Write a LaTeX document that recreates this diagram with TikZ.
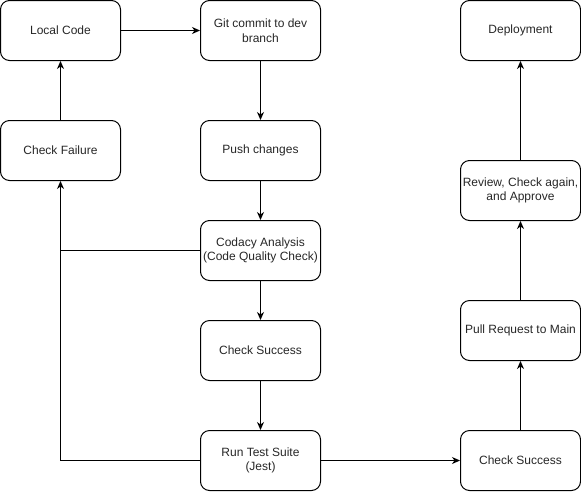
\documentclass[tikz,border=0pt]{standalone}
\usepackage{fontspec}
\setmainfont{Liberation Sans}
\usetikzlibrary{arrows.meta}
\begin{document}
\begin{tikzpicture}[x=1pt,y=-1pt,
  box/.style={draw=black,line width=1pt,rounded corners=9pt,minimum width=120pt,minimum height=60pt,
    inner sep=0pt,align=center,font=\fontsize{12}{14.5}\selectfont,text=black!85},
  arr/.style={draw=black,line width=1pt,-{Stealth[length=8pt,width=7pt,inset=2.5pt]}},
  ln/.style={draw=black,line width=1pt}]
\useasboundingbox (0,0) rectangle (581,491);
\node[box] (lc) at (60.5,30.5) {Local Code};
\node[box] (git) at (260.5,30.5) {Git commit to dev\\branch};
\node[box] (dep) at (520.5,30.5) {Deployment};
\node[box] (cf) at (60.5,150.5) {Check Failure};
\node[box] (push) at (260.5,150.5) {Push changes};
\node[box] (rev) at (520.5,190.5) {Review, Check again,\\and Approve};
\node[box] (cod) at (260.5,250.5) {Codacy Analysis\\(Code Quality Check)};
\node[box] (cs1) at (260.5,350.5) {Check Success};
\node[box] (pr) at (520.5,330.5) {Pull Request to Main};
\node[box] (rts) at (260.5,460.5) {Run Test Suite\\(Jest)};
\node[box] (cs2) at (520.5,460.5) {Check Success};
\draw[arr] (lc) -- (git);
\draw[arr] (git) -- (push);
\draw[arr] (push) -- (cod);
\draw[arr] (cod) -- (cs1);
\draw[arr] (cs1) -- (rts);
\draw[ln] (cod.west) -- (cf.south |- cod.west);
\draw[arr] (rts.west) -| (cf.south);
\draw[arr] (cf) -- (lc);
\draw[arr] (rts) -- (cs2);
\draw[arr] (cs2) -- (pr);
\draw[arr] (pr) -- (rev);
\draw[arr] (rev) -- (dep);
\end{tikzpicture}
\end{document}
